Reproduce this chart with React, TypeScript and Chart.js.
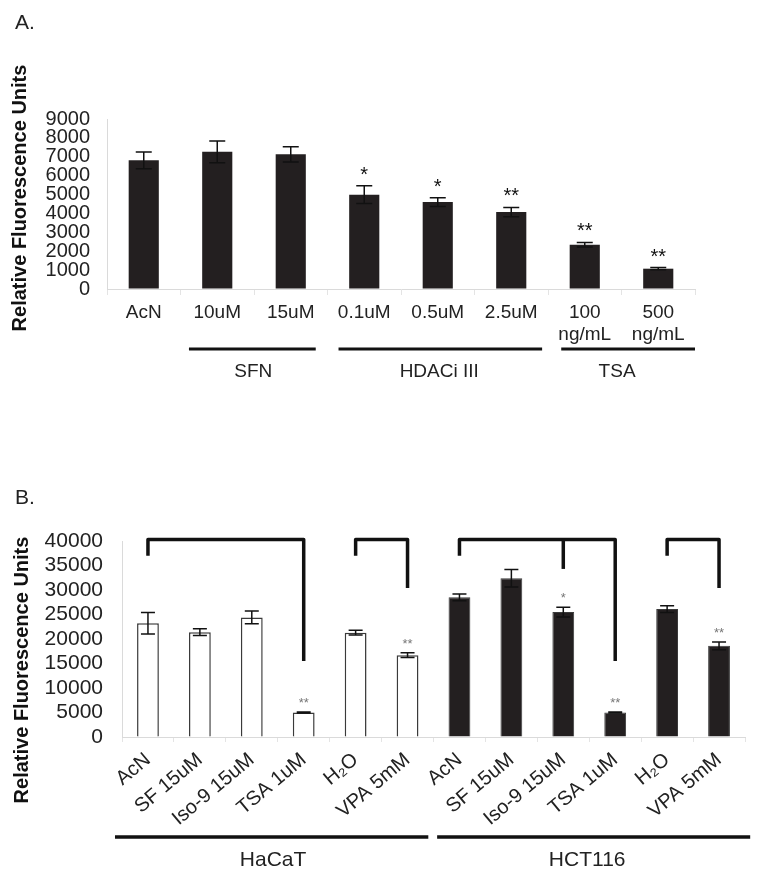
import React, { useEffect, useRef } from 'react';
import { Chart, registerables } from 'chart.js';

Chart.register(...registerables);

const FONT = '"Liberation Sans", Arial, sans-serif';

// ---------- Panel A data ----------
const aCategories: (string | string[])[] = ['AcN', '10uM', '15uM', '0.1uM', '0.5uM', '2.5uM', ['100', 'ng/mL'], ['500', 'ng/mL']];
const aValues = [6810, 7260, 7130, 4990, 4600, 4070, 2345, 1075];
const aErrors = [440, 580, 400, 470, 230, 250, 120, 60];
const aStars = ['', '', '', '*', '*', '**', '**', '**'];
const aYTicks = [0, 1000, 2000, 3000, 4000, 5000, 6000, 7000, 8000, 9000];
const aGroupLabels = ['SFN', 'HDACi III', 'TSA'];

// ---------- Panel B data ----------
const bCategories = ['AcN', 'SF 15uM', 'Iso-9 15uM', 'TSA 1uM', 'H₂O', 'VPA 5mM', 'AcN', 'SF 15uM', 'Iso-9 15uM', 'TSA 1uM', 'H₂O', 'VPA 5mM'];
const bHaCaT = [23200, 21400, 24400, 5000, 21300, 16700, null, null, null, null, null, null];
const bHaCaTErr = [2200, 700, 1300, 100, 500, 500, 0, 0, 0, 0, 0, 0];
const bHCT116 = [null, null, null, null, null, null, 28500, 32400, 25500, 5000, 26100, 18600];
const bHCT116Err = [0, 0, 0, 0, 0, 0, 700, 1800, 1000, 80, 700, 800];
const bStars = ['', '', '', '**', '', '**', '', '', '*', '**', '', '**'];
const bYTicks = [0, 5000, 10000, 15000, 20000, 25000, 30000, 35000, 40000];
const bGroupLabels = ['HaCaT', 'HCT116'];
const bBracketTop = 40300;
const bBracketLegs: number[][][] = [
  [[0, 37000], [3, 15500]],
  [[4, 37000], [5, 30400]],
  [[6, 37000], [8, 34300], [9, 15500]],
  [[10, 37000], [11, 30400]],
];

const Y_TITLE = 'Relative Fluorescence Units';

function drawErrorsAndStars(chart: any, errs: number[][], stars: string[], starFont: string, starColor: string, capHalf: number) {
  const ctx = chart.ctx;
  const y = chart.scales.y;
  ctx.save();
  chart.data.datasets.forEach((ds: any, di: number) => {
    const meta = chart.getDatasetMeta(di);
    meta.data.forEach((el: any, i: number) => {
      const v = ds.data[i];
      if (v == null) return;
      const e = errs[di][i] || 0;
      const yt = y.getPixelForValue(v + e);
      const yb = y.getPixelForValue(v - e);
      if (e > 0) {
        ctx.strokeStyle = '#111';
        ctx.lineWidth = 1.5;
        ctx.beginPath();
        ctx.moveTo(el.x, yt);
        ctx.lineTo(el.x, yb);
        ctx.moveTo(el.x - capHalf, yt);
        ctx.lineTo(el.x + capHalf, yt);
        ctx.moveTo(el.x - capHalf, yb);
        ctx.lineTo(el.x + capHalf, yb);
        ctx.stroke();
      }
      if (stars[i]) {
        ctx.fillStyle = starColor;
        ctx.font = starFont;
        ctx.textAlign = 'center';
        ctx.textBaseline = 'alphabetic';
        ctx.fillText(stars[i], el.x, yt - 5);
      }
    });
  });
  ctx.restore();
}

function drawYTitle(chart: any, cx: number, cy: number, size: number) {
  const ctx = chart.ctx;
  ctx.save();
  ctx.translate(cx, cy);
  ctx.rotate(-Math.PI / 2);
  ctx.font = `bold ${size}px ${FONT}`;
  ctx.fillStyle = '#111';
  ctx.textAlign = 'center';
  ctx.textBaseline = 'middle';
  ctx.fillText(Y_TITLE, 0, 0);
  ctx.restore();
}

function drawGroups(chart: any, groups: { label: string; from: number; to: number; at: number }[], lineY: number, labelY: number, lw: number, size: number) {
  const ctx = chart.ctx;
  const x = chart.scales.x;
  ctx.save();
  groups.forEach((g) => {
    const x1 = x.getPixelForValue(g.from);
    const x2 = x.getPixelForValue(g.to);
    ctx.strokeStyle = '#111';
    ctx.lineWidth = lw;
    ctx.beginPath();
    ctx.moveTo(x1, lineY);
    ctx.lineTo(x2, lineY);
    ctx.stroke();
    ctx.fillStyle = '#222';
    ctx.font = `${size}px ${FONT}`;
    ctx.textAlign = 'center';
    ctx.textBaseline = 'middle';
    ctx.fillText(g.label, x.getPixelForValue(g.at), labelY);
  });
  ctx.restore();
}

const panelAPlugin = {
  id: 'panelA',
  afterDatasetsDraw(chart: any) {
    drawErrorsAndStars(chart, [aErrors], aStars, `20px ${FONT}`, '#111', 8);
    drawYTitle(chart, 20, 198, 20);
    drawGroups(
      chart,
      [
        { label: aGroupLabels[0], from: 0.615, to: 2.34, at: 1.49 },
        { label: aGroupLabels[1], from: 2.65, to: 5.42, at: 4.02 },
        { label: aGroupLabels[2], from: 5.68, to: 7.5, at: 6.44 },
      ],
      349, 372, 3, 19
    );
  },
};

const panelBPlugin = {
  id: 'panelB',
  afterDatasetsDraw(chart: any) {
    const ctx = chart.ctx;
    const x = chart.scales.x;
    const y = chart.scales.y;
    // brackets
    ctx.save();
    ctx.strokeStyle = '#111';
    ctx.lineWidth = 3.5;
    ctx.lineJoin = 'round';
    ctx.lineCap = 'butt';
    const topY = y.getPixelForValue(bBracketTop);
    bBracketLegs.forEach((legs) => {
      const xs = legs.map((l) => x.getPixelForValue(l[0]));
      ctx.beginPath();
      ctx.moveTo(xs[0], y.getPixelForValue(legs[0][1]));
      ctx.lineTo(xs[0], topY);
      ctx.lineTo(xs[xs.length - 1], topY);
      ctx.lineTo(xs[xs.length - 1], y.getPixelForValue(legs[legs.length - 1][1]));
      ctx.stroke();
      for (let k = 1; k < legs.length - 1; k++) {
        ctx.beginPath();
        ctx.moveTo(xs[k], topY);
        ctx.lineTo(xs[k], y.getPixelForValue(legs[k][1]));
        ctx.stroke();
      }
    });
    ctx.restore();
    drawErrorsAndStars(chart, [bHaCaTErr, bHCT116Err], bStars, `13px ${FONT}`, '#777', 7);
    drawYTitle(chart, 22, 240, 20);
    drawGroups(
      chart,
      [
        { label: bGroupLabels[0], from: -0.635, to: 5.4, at: 2.41 },
        { label: bGroupLabels[1], from: 5.57, to: 11.6, at: 8.46 },
      ],
      407, 430, 3.5, 21
    );
  },
};

function PanelA() {
  const ref = useRef<HTMLCanvasElement>(null);
  useEffect(() => {
    const chart = new Chart(ref.current as HTMLCanvasElement, {
      type: 'bar',
      data: {
        labels: aCategories as any,
        datasets: [
          {
            data: aValues,
            backgroundColor: '#231f20',
            borderWidth: 0,
            barPercentage: 0.41,
            categoryPercentage: 1,
          },
        ],
      },
      options: {
        animation: false,
        responsive: false,
        events: [],
        plugins: { legend: { display: false }, tooltip: { enabled: false } },
        layout: { padding: { top: 119, right: 67, bottom: 0, left: 0 } },
        scales: {
          x: {
            offset: true,
            grid: { display: true, drawOnChartArea: false, drawTicks: true, tickLength: 6, color: '#e4e4e4', offset: true },
            border: { color: '#dadada' },
            ticks: { font: { family: FONT, size: 19 }, color: '#222', padding: 6, maxRotation: 0, minRotation: 0, autoSkip: false },
            afterFit: (s: any) => { s.height = 141; },
          },
          y: {
            min: 0,
            max: 9000,
            afterBuildTicks: (s: any) => { s.ticks = aYTicks.map((v) => ({ value: v })); },
            ticks: { font: { family: FONT, size: 20 }, color: '#222', padding: 17, autoSkip: false, callback: (v: any) => String(v) },
            grid: { display: true, drawOnChartArea: false, drawTicks: false },
            border: { color: '#dadada' },
            afterFit: (s: any) => { s.width = 107; },
          },
        },
      },
      plugins: [panelAPlugin],
    });
    return () => chart.destroy();
  }, []);
  return <canvas ref={ref} width={762} height={430} style={{ position: 'absolute', left: 0, top: 0, width: 762, height: 430 }} />;
}

function PanelB() {
  const ref = useRef<HTMLCanvasElement>(null);
  useEffect(() => {
    const chart = new Chart(ref.current as HTMLCanvasElement, {
      type: 'bar',
      data: {
        labels: bCategories,
        datasets: [
          {
            data: bHaCaT as any,
            backgroundColor: '#ffffff',
            borderColor: '#3a3a3a',
            borderWidth: 1.5,
            barPercentage: 0.42,
            categoryPercentage: 1,
            grouped: false,
          },
          {
            data: bHCT116 as any,
            backgroundColor: '#231f20',
            borderColor: '#3a3a3a',
            borderWidth: 1,
            barPercentage: 0.42,
            categoryPercentage: 1,
            grouped: false,
          },
        ],
      },
      options: {
        animation: false,
        responsive: false,
        events: [],
        plugins: { legend: { display: false }, tooltip: { enabled: false } },
        layout: { padding: { top: 111, right: 17, bottom: 0, left: 0 } },
        scales: {
          x: {
            offset: true,
            grid: { display: true, drawOnChartArea: false, drawTicks: true, tickLength: 5, color: '#e4e4e4', offset: true },
            border: { color: '#dadada' },
            ticks: { font: { family: FONT, size: 20 }, color: '#222', padding: 6, maxRotation: 40, minRotation: 40, autoSkip: false },
            afterFit: (s: any) => { s.height = 141; },
          },
          y: {
            min: 0,
            max: 40000,
            afterBuildTicks: (s: any) => { s.ticks = bYTicks.map((v) => ({ value: v })); },
            ticks: { font: { family: FONT, size: 21 }, color: '#222', padding: 19, autoSkip: false, callback: (v: any) => String(v) },
            grid: { display: true, drawOnChartArea: false, drawTicks: false },
            border: { color: '#dadada' },
            afterFit: (s: any) => { s.width = 122; },
          },
        },
      },
      plugins: [panelBPlugin],
    });
    return () => chart.destroy();
  }, []);
  return <canvas ref={ref} width={762} height={448} style={{ position: 'absolute', left: 0, top: 430, width: 762, height: 448 }} />;
}

export default function App() {
  const labelStyle: React.CSSProperties = { position: 'absolute', left: 15, fontFamily: FONT, fontSize: 21, color: '#222', lineHeight: '24px' };
  return (
    <div style={{ position: 'absolute', left: 0, top: 0, width: 762, height: 878, background: '#fff', overflow: 'hidden' }}>
      <PanelA />
      <PanelB />
      <div style={{ ...labelStyle, top: 10 }}>A.</div>
      <div style={{ ...labelStyle, top: 485 }}>B.</div>
    </div>
  );
}
